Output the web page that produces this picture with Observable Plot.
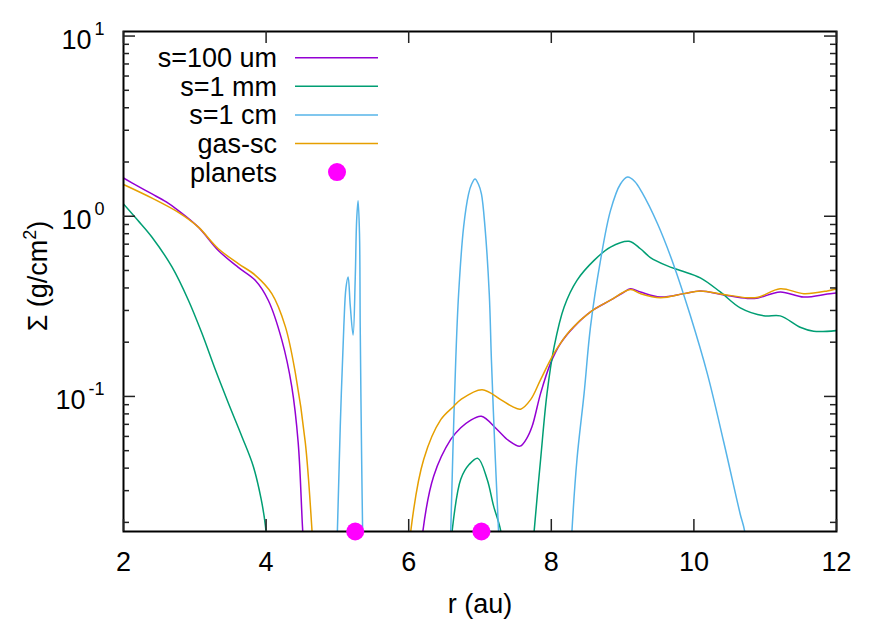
<!DOCTYPE html>
<html><head><meta charset="utf-8">
<script src="https://cdn.jsdelivr.net/npm/d3@7"></script>
<script src="https://cdn.jsdelivr.net/npm/@observablehq/plot@0.6"></script>
<style>body{margin:0;background:#fff} svg{display:block}</style>
</head><body><div id="chart"></div>
<script>
// ---- data ----
const seriesNames  = ["s=100 um", "s=1 mm", "s=1 cm", "gas-sc"];
const seriesColors = ["#9400d3", "#009e73", "#56b4e9", "#e69f00"];
const planetLabel = "planets";
const planetColor = "#ff00ff";

// s=100 um  (null = gap, values far below the axis)
const r100um = [2.0,2.2,2.4,2.6,2.77,3.05,3.33,3.61,3.85,4.03,4.22,4.36,4.45,4.51,4.55, 5.0, 6.17,6.2,6.35,6.59,6.73,6.85,7.02,7.24,7.4,7.56,7.65,7.73,7.85,7.99,8.13,8.32,8.55,8.83,9.0,9.11,9.25,9.53,9.86,10.09,10.42,10.75,10.9,11.21,11.54,11.87,12.0];
const sig100um = [1.63,1.47,1.33,1.2,1.075,0.87,0.646,0.52,0.44,0.342,0.206,0.1135,0.0554,0.019,0.01, null, 0.012,0.018,0.0361,0.0577,0.067,0.073,0.0776,0.0655,0.057,0.053,0.058,0.068,0.104,0.153,0.197,0.244,0.295,0.342,0.375,0.396,0.38,0.356,0.372,0.385,0.366,0.35,0.352,0.38,0.356,0.37,0.375];

// s=1 mm
const r1mm = [2.0,2.2,2.4,2.68,2.91,3.1,3.29,3.47,3.66,3.82,3.93,3.99,4.03, 5.0, 6.58,6.61,6.73,6.85,6.97,7.1,7.19,7.29,7.33, 7.5, 7.73,7.76,7.85,7.94,8.04,8.18,8.36,8.6,8.83,9.09,9.25,9.39,9.62,9.81,10.09,10.37,10.65,10.98,11.21,11.49,11.68,12.0];
const sig1mm = [1.17,0.95,0.765,0.523,0.342,0.224,0.14,0.092,0.06,0.041,0.027,0.0192,0.012, null, 0.012,0.018,0.0347,0.042,0.0453,0.0347,0.0247,0.018,0.012, null, 0.012,0.018,0.0447,0.104,0.189,0.314,0.441,0.569,0.674,0.726,0.66,0.59,0.532,0.5,0.455,0.38,0.31,0.28,0.28,0.242,0.23,0.232];

// s=1 cm
const r1cm = [4.98,5.0,5.04,5.09,5.12,5.15,5.18,5.22,5.25,5.27,5.29,5.31,5.32,5.34,5.36, 6.0, 6.57,6.59,6.62,6.66,6.70,6.77,6.84,6.88,6.93,6.98,7.02,7.07,7.13,7.16,7.21,7.26,7.28, 7.8, 8.27,8.29,8.36,8.46,8.55,8.69,8.83,8.97,9.07,9.17,9.27,9.49,9.72,9.95,10.19,10.42,10.65,10.71,10.75];
const sig1cm = [0.012,0.018,0.068,0.244,0.4,0.46,0.32,0.219,0.45,0.95,1.22,0.8,0.244,0.045,0.012, null, 0.012,0.018,0.05,0.16,0.37,0.87,1.33,1.5,1.61,1.5,1.33,0.87,0.37,0.16,0.05,0.018,0.012, null, 0.012,0.018,0.0447,0.104,0.244,0.569,1.075,1.51,1.65,1.56,1.36,0.908,0.532,0.281,0.133,0.0555,0.0222,0.018,0.012];

// gas-sc
const rGas = [2.0,2.4,2.77,3.05,3.33,3.61,3.85,4.08,4.27,4.41,4.55,4.64,4.68, 5.0, 6.0,6.03,6.21,6.45,6.63,6.73,7.03,7.29,7.45,7.57,7.71,7.85,8.04,8.27,8.55,8.83,9.11,9.25,9.53,9.86,10.09,10.42,10.75,10.9,11.21,11.54,11.87,12.0];
const sigGas = [1.5,1.26,1.05,0.87,0.66,0.546,0.47,0.372,0.244,0.135,0.0554,0.019,0.01, null, 0.012,0.018,0.0447,0.0743,0.088,0.096,0.109,0.096,0.088,0.085,0.096,0.124,0.174,0.234,0.295,0.342,0.392,0.372,0.353,0.372,0.385,0.368,0.353,0.355,0.396,0.372,0.385,0.396];

// planets
const planetR = [5.25, 7.02];
const planetSigma = [0.0178, 0.0178];

// axes
const xDomain = [2, 12];
const yDomain = [0.0178, 10.6];
const xTicks = [2, 4, 6, 8, 10, 12];
const yMajorTicks = [10, 1, 0.1];
const yTickExps = ["1", "0", "-1"];
const yMinorTicks = [0.02,0.03,0.04,0.05,0.06,0.07,0.08,0.09,0.2,0.3,0.4,0.5,0.6,0.7,0.8,0.9,2,3,4,5,6,7,8,9];
const xTitle = "r (au)";
const yTitleMain = "\u03A3 (g/cm";
const yTitleSup = "2";
const yTitleEnd = ")";

// ---- layout ----
const W = 888, H = 623;
const mL = 123, mR = 52, mT = 31, mB = 92;
const fw = W - mL - mR, fh = H - mT - mB;
const FONT = "'Liberation Sans', Arial, Helvetica, sans-serif";

const seriesX = [r100um, r1mm, r1cm, rGas];
const seriesY = [sig100um, sig1mm, sig1cm, sigGas];
const seriesData = seriesNames.map((name, k) =>
  seriesX[k].map((r, i) => ({r, sigma: seriesY[k][i], series: name})));
const planets = planetR.map((r, i) => ({r, sigma: planetSigma[i]}));

const lineMarks = seriesData.map((data, k) =>
  Plot.line(data, {x: "r", y: "sigma", stroke: seriesColors[k], strokeWidth: 1.5,
                   curve: "catmull-rom", clip: true}));

const yLabelMarks = yMajorTicks.flatMap((v, i) => {
  const e = yTickExps[i];
  const ew = e.length > 1 ? 16 : 10;
  return [
    Plot.text([v], {y: d => d, frameAnchor: "left", textAnchor: "end", lineAnchor: "bottom",
                    dx: -19 - ew - 3, dy: 13, text: () => "10", fontSize: 27}),
    Plot.text([v], {y: d => d, frameAnchor: "left", textAnchor: "end", lineAnchor: "bottom",
                    dx: -19, dy: -1, text: () => e, fontSize: 18})
  ];
});

// legend + rotated y title (decoration drawn inside the plot's SVG)
function decorations() {
  const g = d3.create("svg:g").attr("font-family", FONT);
  const rowY = (i) => 57.7 + i * 28.6;
  const labels = [...seriesNames, planetLabel];
  labels.forEach((lab, i) => {
    g.append("text").attr("x", 277).attr("y", rowY(i) + 9.5)
      .attr("text-anchor", "end").attr("font-size", 27).attr("fill", "#000").text(lab);
    if (i < seriesNames.length) {
      g.append("line").attr("x1", 295).attr("x2", 378).attr("y1", rowY(i)).attr("y2", rowY(i))
        .attr("stroke", seriesColors[i]).attr("stroke-width", 1.5);
    } else {
      g.append("circle").attr("cx", 337).attr("cy", rowY(i)).attr("r", 9).attr("fill", planetColor);
    }
  });
  const t = g.append("text").attr("transform", "translate(47,276) rotate(-90)")
    .attr("text-anchor", "middle").attr("font-size", 27).attr("fill", "#000");
  t.append("tspan").text(yTitleMain);
  t.append("tspan").attr("dy", -11).attr("font-size", 18).text(yTitleSup);
  t.append("tspan").attr("dy", 11).text(yTitleEnd);
  return g.node();
}

const tickStroke = "#222";
const chart = Plot.plot({
  width: W, height: H,
  marginLeft: mL, marginRight: mR, marginTop: mT, marginBottom: mB,
  style: {fontFamily: FONT, fontSize: "27px", color: "#000", background: "#fff"},
  x: {domain: xDomain, axis: null},
  y: {type: "log", domain: yDomain, axis: null},
  marks: [
    ...lineMarks,
    Plot.frame({stroke: "#000", strokeWidth: 2}),
    // inward ticks on all four sides
    Plot.tickY(yMajorTicks, {y: d => d, insetRight: fw - 12, stroke: tickStroke, strokeWidth: 1.5}),
    Plot.tickY(yMajorTicks, {y: d => d, insetLeft: fw - 12, stroke: tickStroke, strokeWidth: 1.5}),
    Plot.tickY(yMinorTicks, {y: d => d, insetRight: fw - 6, stroke: tickStroke, strokeWidth: 1.5}),
    Plot.tickY(yMinorTicks, {y: d => d, insetLeft: fw - 6, stroke: tickStroke, strokeWidth: 1.5}),
    Plot.tickX(xTicks, {x: d => d, insetTop: fh - 12, stroke: tickStroke, strokeWidth: 1.5}),
    Plot.tickX(xTicks, {x: d => d, insetBottom: fh - 12, stroke: tickStroke, strokeWidth: 1.5}),
    Plot.dot(planets, {x: "r", y: "sigma", r: 9, fill: planetColor, stroke: null}),
    Plot.text(xTicks, {x: d => d, frameAnchor: "bottom", lineAnchor: "bottom", dy: 39,
                       text: d => String(d), fontSize: 27}),
    ...yLabelMarks,
    Plot.text([xTitle], {frameAnchor: "bottom", lineAnchor: "bottom", dy: 81, text: d => d, fontSize: 27}),
    decorations
  ]
});
document.getElementById("chart").append(chart);
</script>
</body></html>
